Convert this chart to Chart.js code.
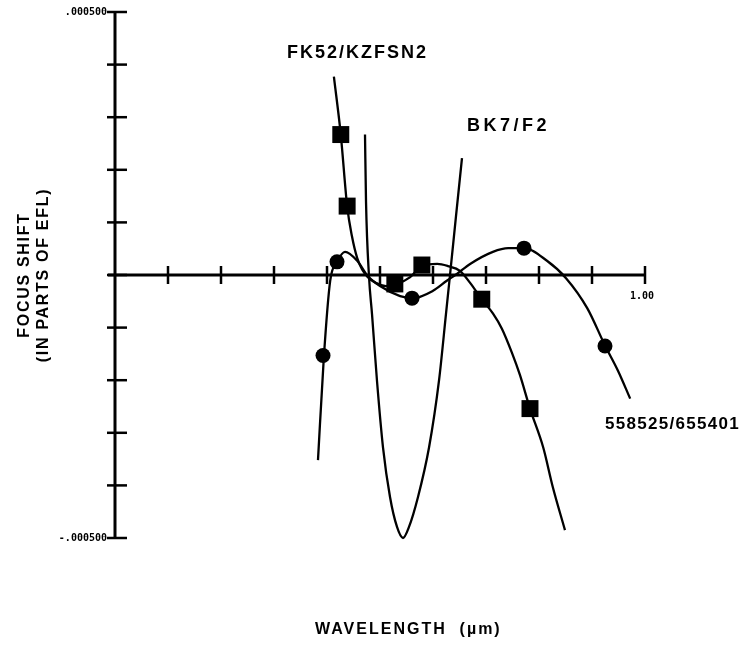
<!DOCTYPE html>
<html>
<head>
<meta charset="utf-8">
<title>Focus shift vs wavelength</title>
<script src="https://cdn.jsdelivr.net/npm/chart.js"></script>
<style>
  html, body { margin:0; padding:0; background:#fff; }
  #chart { display:block; }
</style>
</head>
<body>
<canvas id="chart" width="747" height="645"></canvas>
<script>

/* DATA */

const xTickValues = [0.1,0.2,0.3,0.4,0.5,0.6,0.7,0.8,0.9,1.0];
const xTickLabels = ["","","","","","","","","","1.00"];

const yTickValues = [-0.0005,-0.0004,-0.0003,-0.0002,-0.0001,0,0.0001,0.0002,0.0003,0.0004,0.0005];
const yTickLabels = ["-.000500","","","","","","","","","",".000500"];

// FK52/KZFSN2 curve
const fkWavelength = [0.413,0.426,0.438,0.447,0.457,0.466,0.477,0.492,0.511,0.532,0.557,0.579,0.608,0.628,0.651,0.670,0.692,0.713,0.730,0.749,0.764,0.783,0.808,0.826,0.849];
const fkShift = [0.000377,0.000267,0.000131,0.000074,0.000032,0.000011,-0.000004,-0.000015,-0.000021,-0.000017,-0.000004,0.000017,0.000021,0.000017,0.000008,-0.000015,-0.000046,-0.000073,-0.000102,-0.000148,-0.000190,-0.000254,-0.000328,-0.000403,-0.000485];
const fkMarkWavelength = [0.426,0.438,0.528,0.579,0.692,0.783];
const fkMarkShift = [0.000267,0.000131,-0.000017,0.000019,-0.000046,-0.000254];

// BK7/F2 curve
const bkWavelength = [0.4717,0.4736,0.4792,0.4849,0.4943,0.5057,0.5189,0.5321,0.5434,0.5547,0.5717,0.5925,0.6113,0.6245,0.6321,0.6434,0.6547];
const bkShift = [0.000267,0.000140,-0.000002,-0.000074,-0.000201,-0.000328,-0.000422,-0.000479,-0.000500,-0.000479,-0.000422,-0.000328,-0.000201,-0.000074,0,0.000112,0.000222];

// 558525/655401 curve
const glWavelength = [0.383,0.394,0.406,0.419,0.434,0.457,0.477,0.500,0.538,0.562,0.600,0.626,0.645,0.670,0.713,0.742,0.772,0.815,0.851,0.891,0.925,0.949,0.972];
const glShift = [-0.000352,-0.000157,-0.000011,0.000025,0.000044,0.000027,-0.000002,-0.000021,-0.000040,-0.000044,-0.000030,-0.000011,0.000002,0.000021,0.000044,0.000051,0.000051,0.000027,-0.000006,-0.000063,-0.000135,-0.000182,-0.000235];
const glMarkWavelength = [0.3925,0.4189,0.5604,0.7717,0.9245];
const glMarkShift = [-0.000153,0.000025,-0.000044,0.000051,-0.000135];

const toPoints = (xs,ys) => xs.map((x,i)=>({x:x,y:ys[i]}));

/* LINE + MARKER DATASETS */

function curve(xs,ys){
  return {
    data:toPoints(xs,ys),
    showLine:true,
    borderColor:"#000",
    borderWidth:2.3,
    pointRadius:0,
    cubicInterpolationMode:"monotone",
    fill:false,
    clip:false
  };
}

function marks(xs,ys,style,radius){
  return {
    data:toPoints(xs,ys),
    showLine:false,
    pointStyle:style,
    pointRadius:radius,
    pointBackgroundColor:"#000",
    pointBorderWidth:0,
    clip:false
  };
}

/* AXES + TEXT */

const axesPlugin = {
  id:"axesPlugin",
  beforeDatasetsDraw(chart){
    const ctx = chart.ctx;
    const xs = chart.scales.x;
    const ys = chart.scales.y;
    const x0 = xs.getPixelForValue(0);
    const y0 = ys.getPixelForValue(0);

    ctx.save();
    ctx.strokeStyle = "#000";
    ctx.lineCap = "butt";

    // y axis
    ctx.lineWidth = 3;
    ctx.beginPath();
    ctx.moveTo(x0, ys.getPixelForValue(0.0005));
    ctx.lineTo(x0, ys.getPixelForValue(-0.0005));
    ctx.stroke();

    // x axis on zero
    ctx.beginPath();
    ctx.moveTo(x0-7, y0);
    ctx.lineTo(xs.getPixelForValue(1.0), y0);
    ctx.stroke();

    // crossing ticks
    ctx.lineWidth = 2.5;
    yTickValues.forEach(v=>{
      const py = ys.getPixelForValue(v);
      ctx.beginPath();
      ctx.moveTo(x0-8, py);
      ctx.lineTo(x0+12, py);
      ctx.stroke();
    });
    xTickValues.forEach(v=>{
      const px = xs.getPixelForValue(v);
      ctx.beginPath();
      ctx.moveTo(px, y0-9);
      ctx.lineTo(px, y0+9);
      ctx.stroke();
    });

    ctx.restore();
  },
  afterDraw(chart){
    const ctx = chart.ctx;
    const xs = chart.scales.x;
    const ys = chart.scales.y;
    const x0 = xs.getPixelForValue(0);
    const y0 = ys.getPixelForValue(0);

    ctx.save();
    ctx.fillStyle = "#000";
    ctx.textBaseline = "middle";

    // tick labels
    ctx.font = "bold 10px 'DejaVu Sans Mono'";
    ctx.textAlign = "right";
    yTickValues.forEach((v,i)=>{
      if(yTickLabels[i]) ctx.fillText(yTickLabels[i], x0-8, ys.getPixelForValue(v));
    });
    ctx.textAlign = "center";
    xTickValues.forEach((v,i)=>{
      if(xTickLabels[i]) ctx.fillText(xTickLabels[i], xs.getPixelForValue(v)-3, y0+21);
    });

    // series labels
    ctx.textAlign = "left";
    ctx.font = "bold 18px 'Liberation Sans', Arial, sans-serif";
    ctx.letterSpacing = "2px";
    ctx.fillText("FK52/KZFSN2", 287, 53);
    ctx.letterSpacing = "3.5px";
    ctx.fillText("BK7/F2", 467, 126);
    ctx.font = "bold 17px 'Liberation Sans', Arial, sans-serif";
    ctx.letterSpacing = "1.3px";
    ctx.fillText("558525/655401", 605, 424);

    // axis titles
    ctx.font = "bold 16px 'Liberation Sans', Arial, sans-serif";
    ctx.letterSpacing = "2px";
    ctx.fillText("WAVELENGTH  (\u00b5m)", 315, 630);

    ctx.letterSpacing = "1.7px";
    ctx.translate(25, 275);
    ctx.rotate(-Math.PI/2);
    ctx.textAlign = "center";
    ctx.fillText("FOCUS SHIFT", 0, 0);
    ctx.fillText("(IN PARTS OF EFL)", 0, 19);

    ctx.restore();
  }
};

/* CHART */

const chart = new Chart(
  document.getElementById("chart"),
  {
    type:"scatter",
    data:{
      datasets:[
        curve(fkWavelength,fkShift),
        marks(fkMarkWavelength,fkMarkShift,"rect",12),
        curve(bkWavelength,bkShift),
        curve(glWavelength,glShift),
        marks(glMarkWavelength,glMarkShift,"circle",7.5)
      ]
    },
    options:{
      responsive:false,
      animation:false,
      devicePixelRatio:1,
      layout:{ padding:{ left:115, right:102, top:10, bottom:107 } },
      scales:{
        x:{ type:"linear", min:0, max:1.0, display:false },
        y:{ type:"linear", min:-0.0005, max:0.0005, display:false }
      },
      plugins:{
        legend:{ display:false },
        tooltip:{ enabled:false }
      }
    },
    plugins:[axesPlugin]
  }
);

</script>
</body>
</html>
